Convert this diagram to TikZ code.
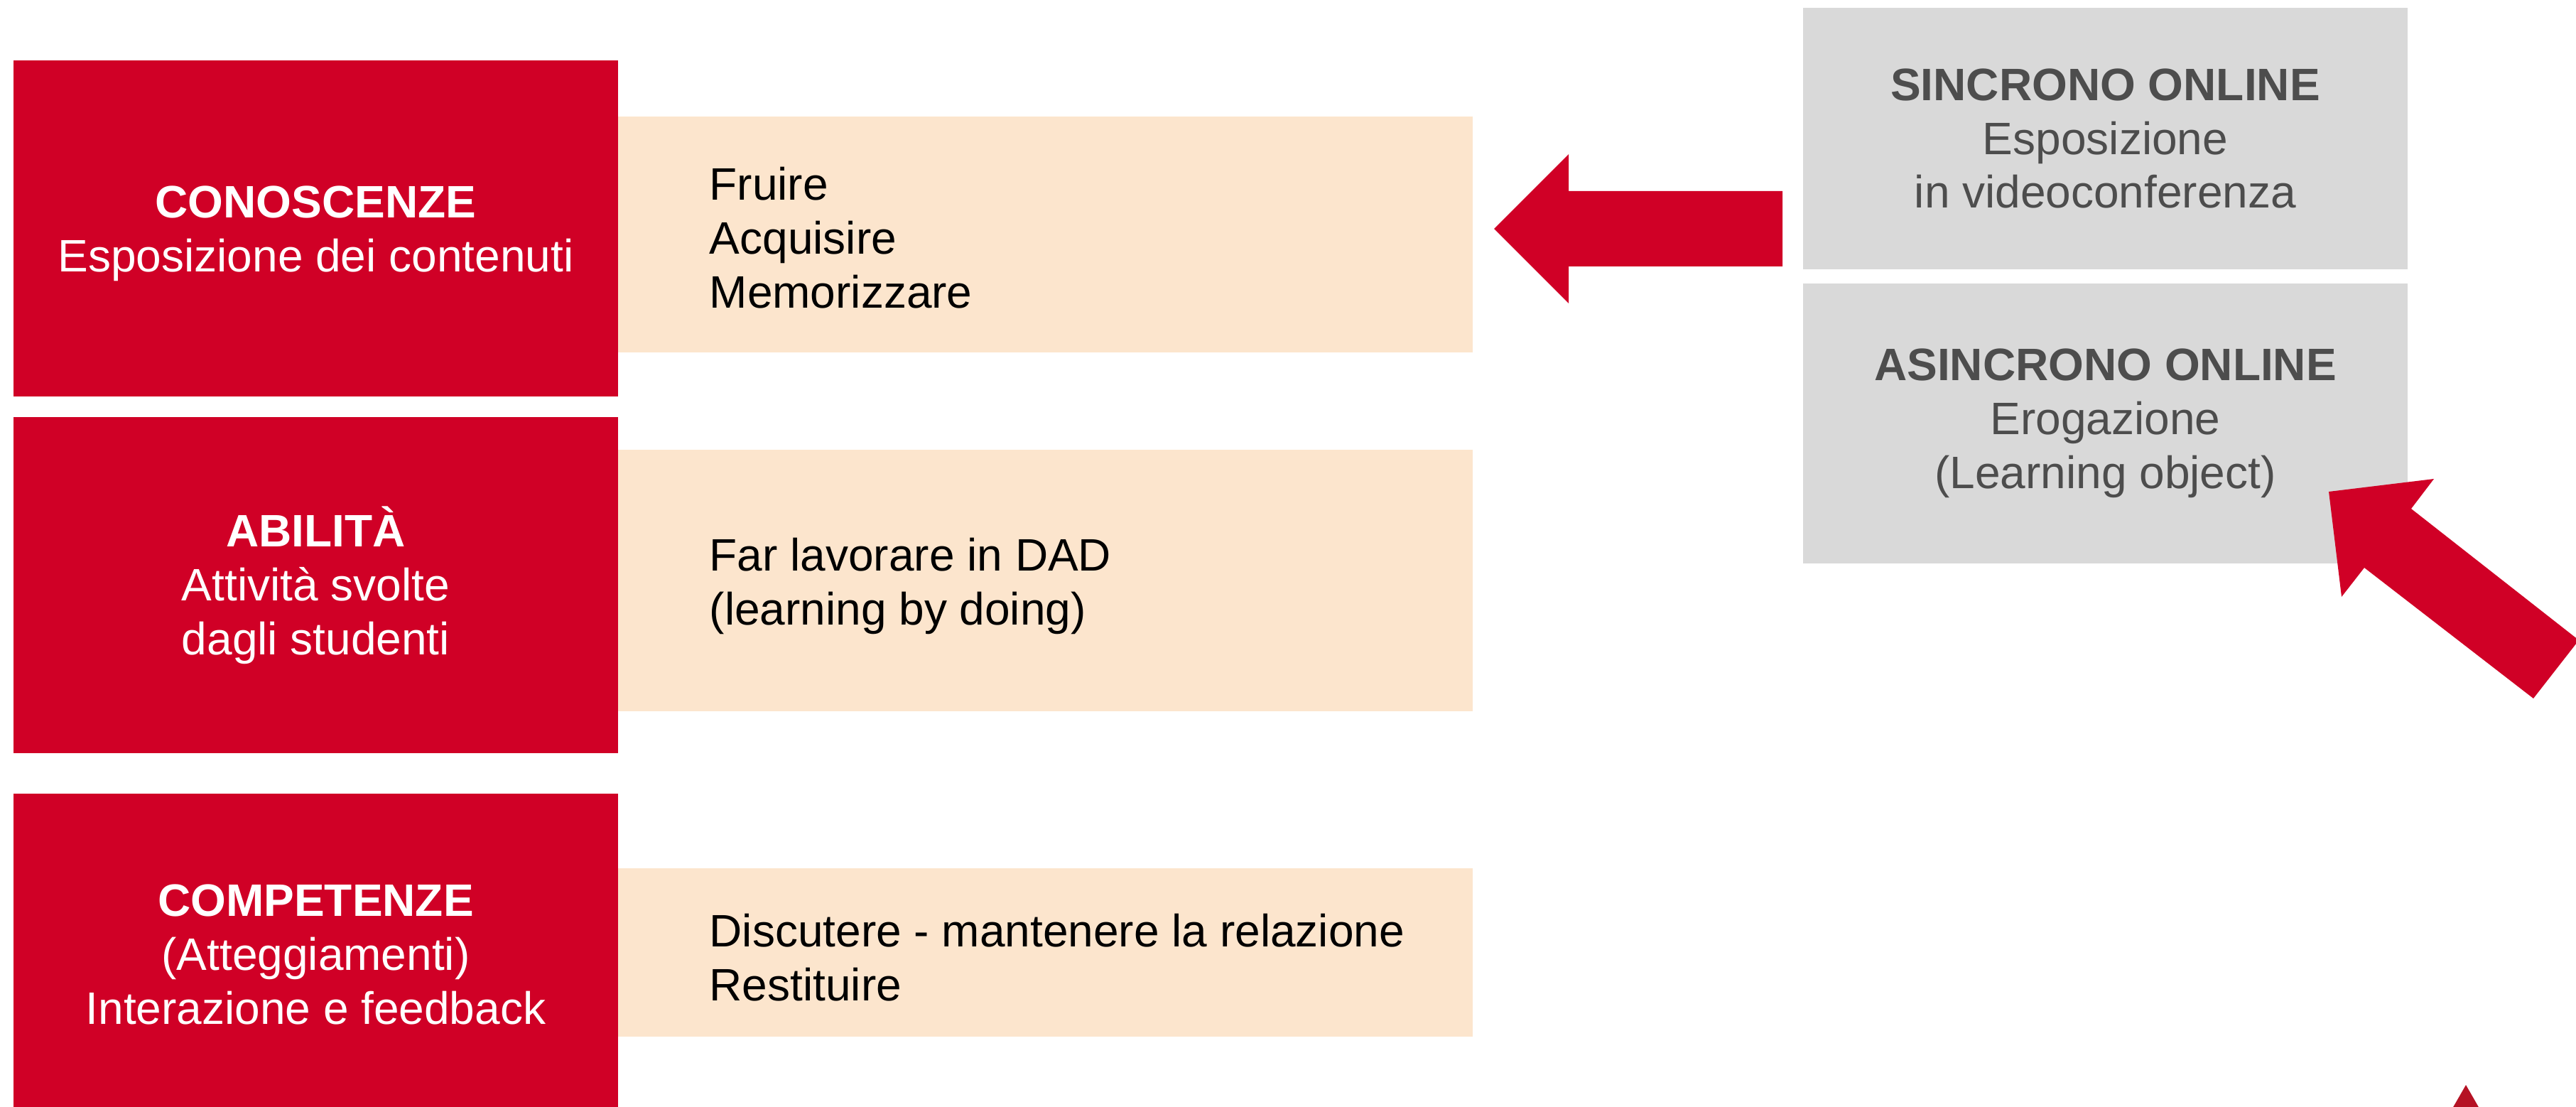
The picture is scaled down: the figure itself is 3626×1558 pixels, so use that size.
\documentclass[tikz,border=0pt]{standalone}
\usepackage{fontspec}
\setmainfont{Liberation Sans}
\definecolor{cRed}{RGB}{208,0,38}
\definecolor{cBeige}{RGB}{252,229,205}
\definecolor{cGray}{RGB}{217,217,217}
\definecolor{cGrayText}{RGB}{77,77,77}
\definecolor{cTip}{RGB}{181,18,36}
\begin{document}
\begin{tikzpicture}[x=0.01cm,y=-0.01cm,
  txt/.style={font=\fontsize{18.2pt}{21.6pt}\selectfont},
  box/.style={rectangle, inner sep=0pt, minimum width=8.51cm, align=center, txt},
  redcard/.style={box, fill=cRed, text=white},
  graycard/.style={box, fill=cGray, text=cGrayText},
  beigecard/.style={rectangle, fill=cBeige, inner sep=0pt, minimum width=12.03cm},
  beigetext/.style={txt, align=left, anchor=west, inner sep=0pt, text=black, xshift=1.29cm},
  blockarrow/.style={fill=cRed, draw=none}]
\useasboundingbox (0,0) rectangle (3626,1558);

% red cards
\node[redcard, minimum height=4.73cm] (r1) at (444.5,321.5) {};
\node[txt, align=center, text=white, inner sep=0pt] (r1t) at ([yshift=-0.07cm]r1.center)
  {\textbf{CONOSCENZE}\\Esposizione dei contenuti};
\node[redcard, minimum height=4.73cm] (r2) at (444.5,823.5)
  {\textbf{ABILITÀ}\\Attività svolte\\dagli studenti};
\node[redcard, minimum height=4.53cm] (r3) at (444.5,1343.5)
  {\textbf{COMPETENZE}\\(Atteggiamenti)\\Interazione e feedback};

% beige cards
\node[beigecard, minimum height=3.32cm] (b1) at (1471.5,330) {};
\node[beigetext] (b1t) at ([yshift=-0.05cm]b1.west) {Fruire\\Acquisire\\Memorizzare};
\node[beigecard, minimum height=3.68cm] (b2) at (1471.5,817) {};
\node[beigetext] (b2t) at ([yshift=-0.08cm]b2.west) {Far lavorare in DAD\\(learning by doing)};
\node[beigecard, minimum height=2.37cm] (b3) at (1471.5,1340.5) {};
\node[beigetext] (b3t) at ([yshift=-0.07cm]b3.west) {Discutere - mantenere la relazione\\Restituire};

% gray cards
\node[graycard, minimum height=3.68cm] (g1) at (2963.5,195)
  {\textbf{SINCRONO ONLINE}\\Esposizione\\in videoconferenza};
\node[graycard, minimum height=3.94cm] (g2) at (2963.5,596)
  {\textbf{ASINCRONO ONLINE}\\Erogazione\\(Learning object)};

% block arrow from g1 towards b1
\fill[blockarrow] (2103,322) -- (2208,217) -- (2208,269) -- (2509,269)
  -- (2509,375) -- (2208,375) -- (2208,427) -- cycle;

% diagonal block arrow towards g2
\fill[blockarrow] (3278,692) -- (3426,674) -- (3394,716) -- (3630,901)
  -- (3566,983) -- (3328,799) -- (3296,840) -- cycle;

% tip of a further arrow at the bottom edge
\fill[cTip] (3471,1527) -- (3490,1560) -- (3452,1560) -- cycle;
\end{tikzpicture}
\end{document}
